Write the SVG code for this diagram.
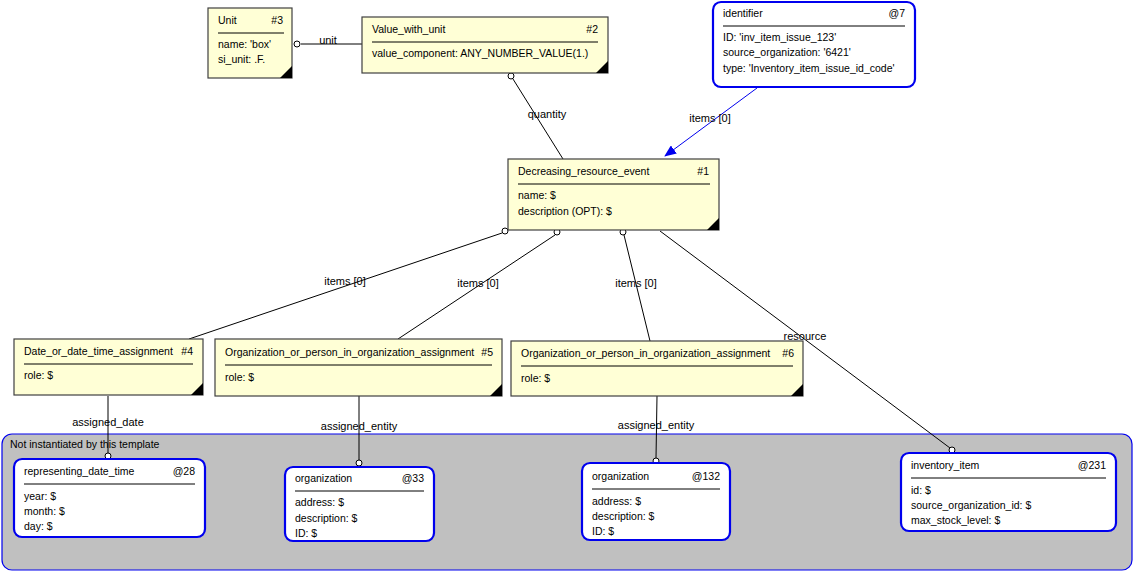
<svg xmlns="http://www.w3.org/2000/svg" width="1134" height="572" viewBox="0 0 1134 572">
<style>
text{font-family:"Liberation Sans",Arial,sans-serif;font-size:10.5px;fill:#000}
.e{fill:#ffffd6;stroke:#404040;stroke-width:1.2}
.i{fill:#fff;stroke:#0000ee;stroke-width:2.2}
.sep{stroke:#000;stroke-width:1}
.c{stroke:#000;stroke-width:1;fill:none}
.o{fill:#fff;stroke:#000;stroke-width:1}
.lb{text-anchor:middle;font-size:11px}
.r{text-anchor:end}
</style>
<defs><marker id="ar" markerWidth="12" markerHeight="10" refX="11" refY="5" orient="auto" markerUnits="userSpaceOnUse"><path d="M0,0 L12,5 L0,10 Z" fill="#0000ee"/></marker></defs>
<g id="group"><rect x="2" y="434" width="1130" height="136" rx="10" fill="#c0c0c0" stroke="#0000ee" stroke-width="1.2"/><text x="10" y="448">Not instantiated by this template</text></g>
<g id="connectors">
<line class="c" x1="301" y1="44" x2="362" y2="44"/><circle class="o" cx="297" cy="44" r="3"/><text x="328" y="44" class="lb">unit</text>
<line class="c" x1="513" y1="79" x2="563" y2="159"/><circle class="o" cx="511" cy="76" r="3"/><text x="547" y="118" class="lb">quantity</text>
<line x1="757" y1="88" x2="665" y2="156" stroke="#0000ee" marker-end="url(#ar)"/><text x="710" y="122" class="lb">items [0]</text>
<line class="c" x1="502" y1="233" x2="189" y2="339"/><circle class="o" cx="505" cy="231" r="3"/><text x="345" y="285" class="lb">items [0]</text>
<line class="c" x1="555" y1="235" x2="398" y2="339"/><circle class="o" cx="557" cy="232" r="3"/><text x="478" y="287" class="lb">items [0]</text>
<line class="c" x1="624" y1="235" x2="650" y2="341"/><circle class="o" cx="623" cy="232" r="3"/><text x="636" y="287" class="lb">items [0]</text>
<line class="c" x1="660" y1="231" x2="950" y2="448"/><circle class="o" cx="952" cy="450" r="3"/><text x="805" y="340" class="lb">resource</text>
<line class="c" x1="108" y1="396" x2="108" y2="453"/><circle class="o" cx="108" cy="456" r="3"/><text x="108" y="426" class="lb">assigned_date</text>
<line class="c" x1="359" y1="396" x2="359" y2="460"/><circle class="o" cx="359" cy="463" r="3"/><text x="359" y="430" class="lb">assigned_entity</text>
<line class="c" x1="657" y1="396" x2="656" y2="458"/><circle class="o" cx="656" cy="461" r="3"/><text x="656" y="429" class="lb">assigned_entity</text>
</g>
<g id="n3"><rect class="e" x="208" y="8" width="84" height="70"/><path d="M292,78 L280,78 L292,66Z"/><text x="218" y="24">Unit</text><text x="283" y="24" class="r">#3</text><line class="sep" x1="218" y1="33" x2="284" y2="33"/><text x="218" y="48">name: 'box'</text><text x="218" y="63">si_unit: .F.</text></g>
<g id="n2"><rect class="e" x="362" y="17" width="246" height="56"/><path d="M608,73 L596,73 L608,61Z"/><text x="372" y="33">Value_with_unit</text><text x="598" y="33" class="r">#2</text><line class="sep" x1="372" y1="42" x2="598" y2="42"/><text x="372" y="57">value_component: ANY_NUMBER_VALUE(1.)</text></g>
<g id="n7"><rect class="i" x="713" y="2" width="202" height="85" rx="8"/><text x="723" y="17">identifier</text><text x="905" y="17" class="r">@7</text><line class="sep" x1="723" y1="26" x2="905" y2="26"/><text x="723" y="41">ID: 'inv_item_issue_123'</text><text x="723" y="56">source_organization: '6421'</text><text x="723" y="72">type: 'Inventory_item_issue_id_code'</text></g>
<g id="n1"><rect class="e" x="508" y="159" width="211" height="71"/><path d="M719,230 L707,230 L719,218Z"/><text x="518" y="175">Decreasing_resource_event</text><text x="709" y="175" class="r">#1</text><line class="sep" x1="518" y1="184" x2="710" y2="184"/><text x="518" y="199">name: $</text><text x="518" y="215">description (OPT): $</text></g>
<g id="n4"><rect class="e" x="14" y="339" width="189" height="56"/><path d="M203,395 L191,395 L203,383Z"/><text x="24" y="355">Date_or_date_time_assignment</text><text x="193" y="355" class="r">#4</text><line class="sep" x1="24" y1="364" x2="193" y2="364"/><text x="24" y="379">role: $</text></g>
<g id="n5"><rect class="e" x="215" y="339" width="287" height="57"/><path d="M502,396 L490,396 L502,384Z"/><text x="225" y="356">Organization_or_person_in_organization_assignment</text><text x="493" y="356" class="r">#5</text><line class="sep" x1="225" y1="365" x2="492" y2="365"/><text x="225" y="381">role: $</text></g>
<g id="n6"><rect class="e" x="511" y="341" width="292" height="55"/><path d="M803,396 L791,396 L803,384Z"/><text x="521" y="357">Organization_or_person_in_organization_assignment</text><text x="794" y="357" class="r">#6</text><line class="sep" x1="521" y1="366" x2="793" y2="366"/><text x="521" y="382">role: $</text></g>
<g id="n28"><rect class="i" x="14" y="459" width="191" height="78" rx="8"/><text x="24" y="475">representing_date_time</text><text x="195" y="475" class="r">@28</text><line class="sep" x1="24" y1="484" x2="195" y2="484"/><text x="24" y="500">year: $</text><text x="24" y="515">month: $</text><text x="24" y="530">day: $</text></g>
<g id="n33"><rect class="i" x="285" y="467" width="149" height="74" rx="8"/><text x="295" y="482">organization</text><text x="424" y="482" class="r">@33</text><line class="sep" x1="295" y1="491" x2="424" y2="491"/><text x="295" y="506">address: $</text><text x="295" y="522">description: $</text><text x="295" y="537">ID: $</text></g>
<g id="n132"><rect class="i" x="582" y="463" width="148" height="77" rx="8"/><text x="592" y="480">organization</text><text x="720" y="480" class="r">@132</text><line class="sep" x1="592" y1="489" x2="720" y2="489"/><text x="592" y="505">address: $</text><text x="592" y="520">description: $</text><text x="592" y="535">ID: $</text></g>
<g id="n231"><rect class="i" x="901" y="453" width="215" height="78" rx="8"/><text x="911" y="469">inventory_item</text><text x="1106" y="469" class="r">@231</text><line class="sep" x1="911" y1="478" x2="1106" y2="478"/><text x="911" y="494">id: $</text><text x="911" y="509">source_organization_id: $</text><text x="911" y="524">max_stock_level: $</text></g>
</svg>
